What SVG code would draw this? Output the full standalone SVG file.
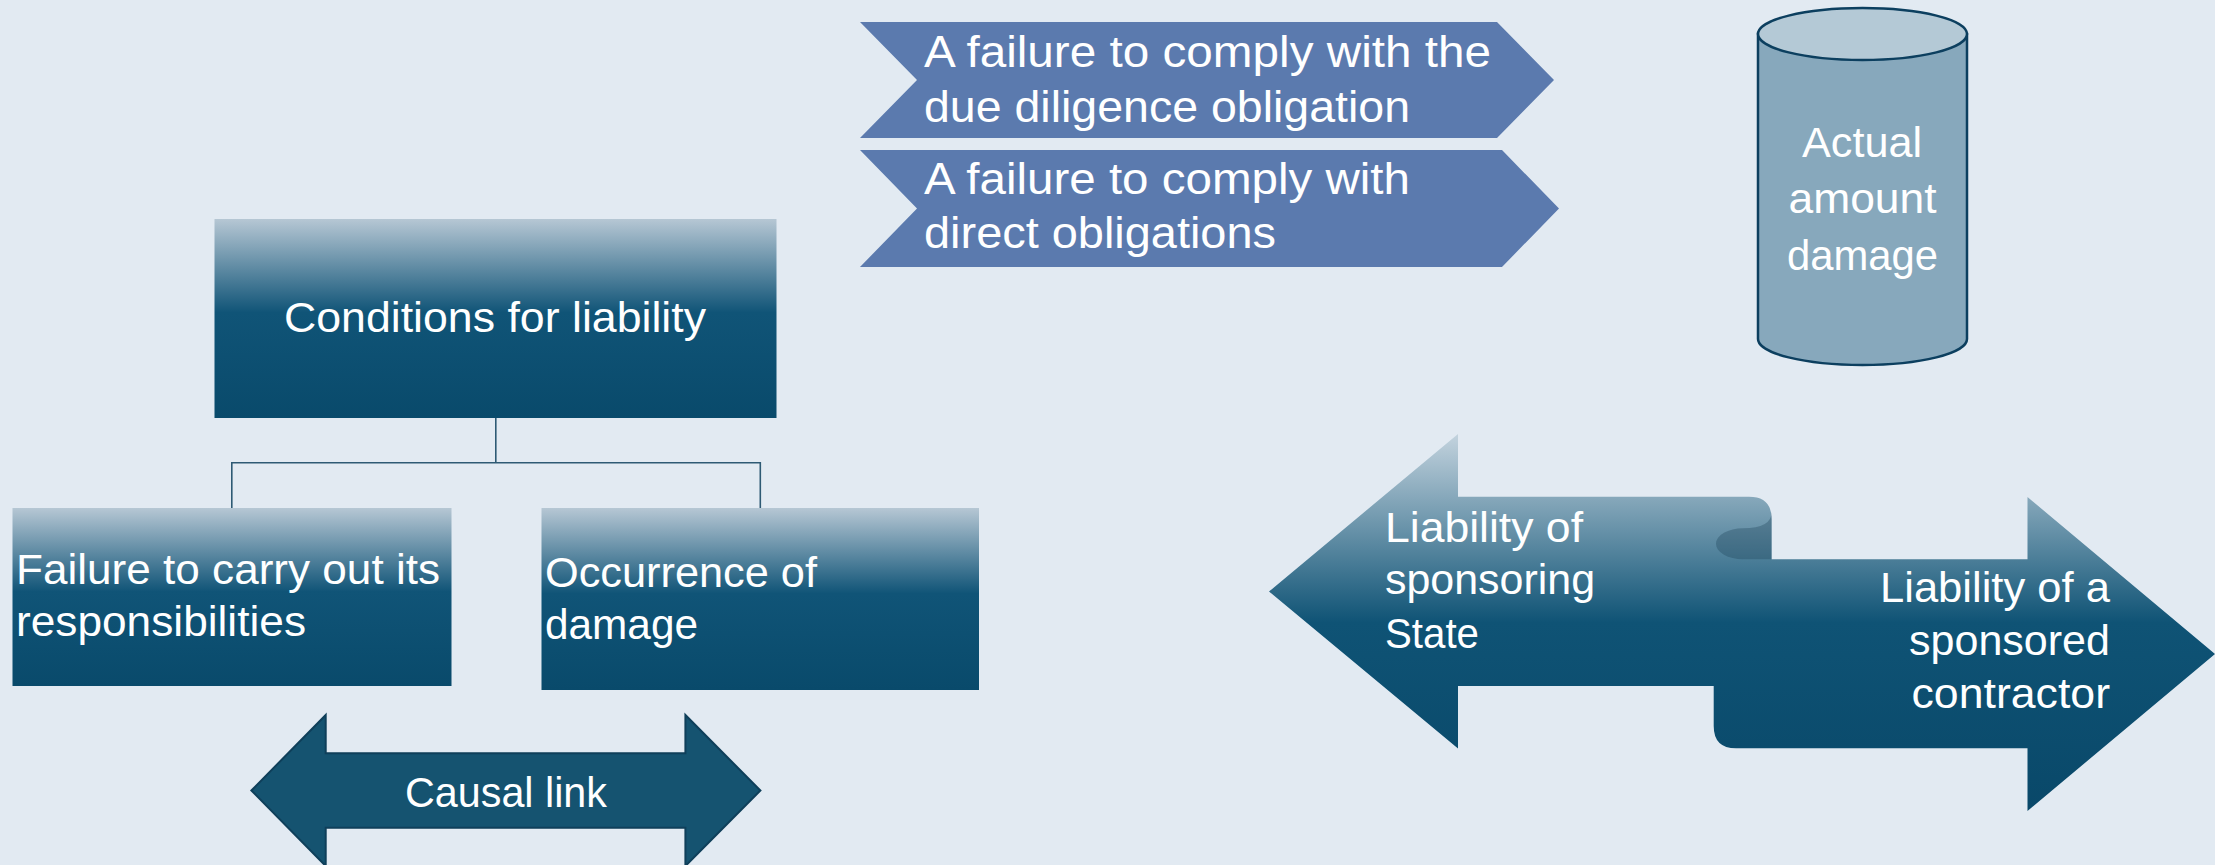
<svg xmlns="http://www.w3.org/2000/svg" width="2215" height="865" viewBox="0 0 2215 865">
<defs>
<linearGradient id="boxGrad" x1="0" y1="0" x2="0" y2="1">
<stop offset="0" stop-color="#b6c7d4"/>
<stop offset="0.47" stop-color="#105477"/>
<stop offset="1" stop-color="#094a6b"/>
</linearGradient>
<linearGradient id="liabGrad" gradientUnits="userSpaceOnUse" x1="0" y1="434" x2="0" y2="811">
<stop offset="0" stop-color="#c3d3de"/>
<stop offset="0.5" stop-color="#0f5375"/>
<stop offset="1" stop-color="#094869"/>
</linearGradient>
</defs>
<style>
.t{font-family:"Liberation Sans",Arial,sans-serif;font-size:42px;fill:#ffffff;}
.tc{font-family:"Liberation Sans",Arial,sans-serif;font-size:44px;fill:#ffffff;}
.chev{fill:#5b7aae;}
.box{fill:url(#boxGrad);}
.conn{fill:none;stroke:#2e5a74;stroke-width:1.6;}
</style>
<rect width="2215" height="865" fill="#e2eaf2"/>

<g id="connectors">
<path class="conn" d="M495.8,418 V462.7"/>
<path class="conn" d="M231.8,508 V462.7 H760.3 V508"/>
</g>

<g id="chevron1">
<polygon class="chev" points="860,22 1497,22 1554,80 1497,138 860,138 917,80"/>
<text class="tc" x="924" y="67" textLength="567" lengthAdjust="spacingAndGlyphs">A failure to comply with the</text>
<text class="tc" x="924" y="122" textLength="486" lengthAdjust="spacingAndGlyphs">due diligence obligation</text>
</g>

<g id="chevron2">
<polygon class="chev" points="860,150 1502,150 1559,208.5 1502,267 860,267 917,208.5"/>
<text class="tc" x="924" y="193.5" textLength="486" lengthAdjust="spacingAndGlyphs">A failure to comply with</text>
<text class="tc" x="924" y="248" textLength="352" lengthAdjust="spacingAndGlyphs">direct obligations</text>
</g>

<g id="cylinder">
<path d="M1758,34 L1758,339 A104.5,26 0 0 0 1967,339 L1967,34 Z" fill="#87a8bc" stroke="#0c3f5f" stroke-width="2.5"/>
<ellipse cx="1862.5" cy="34" rx="104.5" ry="26" fill="#b4c9d6" stroke="#0c3f5f" stroke-width="2.5"/>
<text class="t" x="1802" y="157" textLength="120" lengthAdjust="spacingAndGlyphs">Actual</text>
<text class="t" x="1788.5" y="213" textLength="148" lengthAdjust="spacingAndGlyphs">amount</text>
<text class="t" x="1787" y="269.5" textLength="151" lengthAdjust="spacingAndGlyphs">damage</text>
</g>

<g id="conditions">
<rect class="box" x="214.5" y="219" width="562" height="199"/>
<text class="t" x="284" y="332" textLength="422" lengthAdjust="spacingAndGlyphs">Conditions for liability</text>
</g>

<g id="failure">
<rect class="box" x="12.5" y="508" width="439" height="178"/>
<text class="t" x="16" y="583.5" textLength="424" lengthAdjust="spacingAndGlyphs">Failure to carry out its</text>
<text class="t" x="16" y="636" textLength="290" lengthAdjust="spacingAndGlyphs">responsibilities</text>
</g>

<g id="occurrence">
<rect class="box" x="541.5" y="508" width="437.5" height="182"/>
<text class="t" x="545" y="587" textLength="272" lengthAdjust="spacingAndGlyphs">Occurrence of</text>
<text class="t" x="545" y="638.5" textLength="153" lengthAdjust="spacingAndGlyphs">damage</text>
</g>

<g id="causal">
<polygon points="251.4,790.5 325.7,715 325.7,753.3 685.4,753.3 685.4,715 760.4,790.5 685.4,866 685.4,827.7 325.7,827.7 325.7,866" fill="#155370" stroke="#0f3f5a" stroke-width="2"/>
<text class="t" x="405" y="807" textLength="202" lengthAdjust="spacingAndGlyphs">Causal link</text>
</g>

<g id="liability">
<path d="M1269,591.5 L1458,434 L1458,496.7 L1749,496.7 Q1771.6,496.7 1771.6,519 L1771.6,686 L1458,686 L1458,748.5 Z" fill="url(#liabGrad)"/>
<path d="M1713.7,559.3 L2027.5,559.3 L2027.5,497 L2215,654 L2027.5,811 L2027.5,748.3 L1736,748.3 Q1713.7,748.3 1713.7,726 Z" fill="url(#liabGrad)"/>
<path d="M1771.6,512 Q1771.6,528.3 1743,528.3 A27,15.5 0 0 0 1743,559.3 L1771.6,559.3 Z" fill="#1a3d55" fill-opacity="0.32"/>
<text class="t" x="1385" y="542" textLength="198" lengthAdjust="spacingAndGlyphs">Liability of</text>
<text class="t" x="1385" y="593.5" textLength="210" lengthAdjust="spacingAndGlyphs">sponsoring</text>
<text class="t" x="1385" y="647.5" textLength="94" lengthAdjust="spacingAndGlyphs">State</text>
<text class="t" x="1880" y="602" textLength="230" lengthAdjust="spacingAndGlyphs">Liability of a</text>
<text class="t" x="1909" y="655" textLength="201" lengthAdjust="spacingAndGlyphs">sponsored</text>
<text class="t" x="1911.5" y="707.5" textLength="198.5" lengthAdjust="spacingAndGlyphs">contractor</text>
</g>
</svg>
